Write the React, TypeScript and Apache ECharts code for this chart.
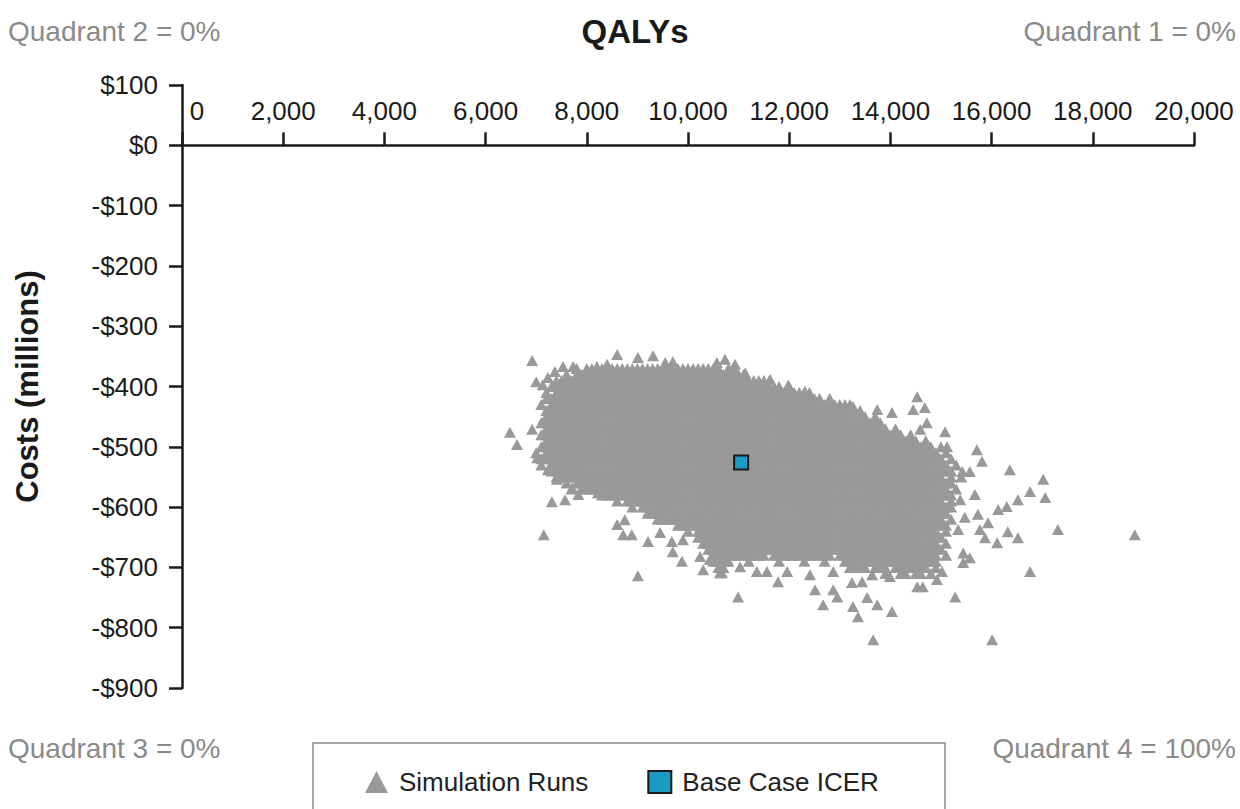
import React, { useEffect, useRef } from "react";
import * as echarts from "echarts";

// ---- Axes ----
const qalyMin = 0;
const qalyMax = 20000;
const qalyStep = 2000;
const costMin = -900;
const costMax = 100;
const costStep = 100;

// ---- Titles / labels ----
const xTitle = "QALYs";
const yTitle = "Costs (millions)";
const quadrantLabels = ["Quadrant 2 = 0%", "Quadrant 1 = 0%", "Quadrant 3 = 0%", "Quadrant 4 = 100%"];
const seriesNames = ["Simulation Runs", "Base Case ICER"];

// ---- Base case point [QALYs, cost in $ millions] ----
const baseCase: [number, number][] = [[11050, -526]];

// ---- Dense core of the simulation cloud, read off the picture as a cell mask ----
// row k -> cost = coreTopCost - k * coreCostStep ; column c -> QALYs = coreLeftQaly + c * coreQalyStep
const coreLeftQaly = 6500;
const coreQalyStep = 100;
const coreTopCost = -370;
const coreCostStep = 10;
const coreMask: string[] = [
  ".......... ...#.##.## ########## ########## ##.##",
  ".......... .#.####### ########## ########## #######",
  ".........# ########## ########## ########## ########## #",
  "........## ########## ########## ########## ########## ####.#",
  ".......#.# ########## ########## ########## ########## ########.#",
  ".......### ########## ########## ########## ########## ########## ##.#",
  "......#.## ########## ########## ########## ########## ########## ######.#",
  ".......### ########## ########## ########## ########## ########## ##########",
  ".......### ########## ########## ########## ########## ########## ########## #.#",
  "......#### ########## ########## ########## ########## ########## ########## ####",
  ".......### ########## ########## ########## ########## ########## ########## #####.#",
  "......#### ########## ########## ########## ########## ########## ########## ########.#",
  ".......### ########## ########## ########## ########## ########## ########## ########## #.#",
  "......#### ########## ########## ########## ########## ########## ########## ########## ####.#",
  ".....#.### ########## ########## ########## ########## ########## ########## ########## #####.#",
  "......#### ########## ########## ########## ########## ########## ########## ########## ######.#",
  "......#.## ########## ########## ########## ########## ########## ########## ########## #######.#",
  "........## ########## ########## ########## ########## ########## ########## ########## ########",
  ".........# ########## ########## ########## ########## ########## ########## ########## ######.#.#",
  ".......... .#.####### ########## ########## ########## ########## ########## ########## ########",
  ".......... ..#.###### ########## ########## ########## ########## ########## ########## #######.#",
  ".......... ........## ########## ########## ########## ########## ########## ########## ########",
  ".......... .......... .#.####### ########## ########## ########## ########## ########## ######.#",
  ".......... .......... ....#.#### ########## ########## ########## ########## ########## ########",
  ".......... .......... .......### ########## ########## ########## ########## ########## #######",
  ".......... .......... .........# ########## ########## ########## ########## ########## ######.#",
  ".......... .......... .......... ...####### ########## ########## ########## ########## #######",
  ".......... .......... .......... .....#.### ########## ########## ########## ########## #####.#",
  ".......... .......... .......... .......### ########## ########## ########## ########## ######",
  ".......... .......... .......... ........## ########## ########## ########## ########## #####.#",
  ".......... .......... .......... .........# ########## ########## ########## ########## ######",
  ".......... .......... .......... .......... ########## #.######## ####.##### ########## #####.#",
  ".......... .......... .......... .......... ####...#.. ...#....#. ..#...#### ########## #####",
  ".......... .......... .......... .......... .##....... .......... .......### #.###.#### ###.#",
  ".......... .......... .......... .......... .......... .......... .......... ....#..##. ##.#",
];

// ---- Individual simulation runs around the edge of the cloud [QALYs, cost] ----
const simulationOutliers: [number, number][] = [
  [6920, -357], [7000, -392], [6920, -471], [6480, -476], [6620, -496], [7020, -518], [7310, -591],
  [7570, -588], [7150, -646], [9010, -714],
  [8600, -347], [9010, -352], [9310, -349], [9550, -360], [9700, -359], [10570, -360], [10730, -355],
  [10930, -363], [7530, -367], [7730, -367], [8200, -367], [8400, -363],
  [11620, -388], [11130, -377], [11980, -398], [12310, -408], [12810, -422], [13100, -430],
  [13260, -433], [13740, -438], [14030, -443], [14450, -438], [14530, -417], [14680, -435], [14720, -460],
  [14590, -471],
  [15080, -475], [15120, -500], [15710, -505], [15810, -524], [15570, -541], [15420, -541], [16360, -538],
  [17020, -554], [17060, -584], [16760, -574], [16520, -588], [15670, -579], [15470, -617], [15730, -612],
  [15770, -637], [15870, -651], [16110, -659], [16320, -641], [16520, -651], [16130, -604], [16300, -599],
  [15930, -626], [17310, -637], [18830, -646], [16760, -707], [16010, -820], [15280, -749], [15570, -684],
  [15440, -692], [15440, -676], [15020, -707], [14920, -720], [15380, -588], [15340, -637],
  [10990, -749], [11780, -724], [12410, -712], [12510, -737], [12670, -762], [12870, -737], [12950, -749],
  [13260, -765], [13360, -782], [13540, -750], [13740, -762], [14030, -773], [13660, -820], [13990, -715],
  [14530, -732], [14640, -732], [11960, -707], [11560, -707], [11360, -707], [11030, -699], [13240, -725],
  [13440, -724], [13640, -712], [12870, -707], [10670, -709],
  [8600, -629], [8750, -621], [8890, -646], [8720, -646], [9210, -657], [9680, -657], [9700, -674],
  [9880, -690], [10300, -704], [10630, -709], [10430, -687], [10240, -682], [9450, -642], [9900, -654],
  [7710, -568], [8060, -566], [8220, -576], [7830, -579], [7410, -554], [7230, -538],
  [7130, -397], [7230, -385], [7370, -375],
];

function decodeMask(): [number, number][] {
  const pts: [number, number][] = [];
  coreMask.forEach((row, k) => {
    const cells = row.replace(/ /g, "");
    for (let c = 0; c < cells.length; c++) {
      if (cells[c] === "#") pts.push([coreLeftQaly + c * coreQalyStep, coreTopCost - k * coreCostStep]);
    }
  });
  return pts;
}

const FONT = "'Liberation Sans', Arial, Helvetica, sans-serif";
const INK = "#1a1a1a";
const GREY_TRI = "#999999";
const QUAD = "#8a8a8a";

const withCommas = (v: number) => String(v).replace(/\B(?=(\d{3})+(?!\d))/g, ",");

export default function App() {
  const ref = useRef<HTMLDivElement>(null);
  useEffect(() => {
    if (!ref.current) return;
    const chart = echarts.init(ref.current, undefined, { renderer: "svg" });
    const simulation = [...decodeMask(), ...simulationOutliers];
    const axisLine = { color: INK, width: 2.5 };
    chart.setOption({
      animation: false,
      textStyle: { fontFamily: FONT },
      grid: { left: 182, right: 46, top: 85, bottom: 121, containLabel: false },
      xAxis: {
        type: "value",
        position: "top",
        min: qalyMin,
        max: qalyMax,
        interval: qalyStep,
        axisLine: { show: true, onZero: true, lineStyle: axisLine },
        axisTick: { show: true, length: 13, lineStyle: axisLine },
        splitLine: { show: false },
        axisLabel: {
          fontSize: 26,
          color: INK,
          fontFamily: FONT,
          margin: -39,
          formatter: (v: number) => (v === 0 ? "{z|0}" : withCommas(v)),
          rich: { z: { fontSize: 26, color: INK, fontFamily: FONT, padding: [0, 0, 0, 30] } },
        },
      },
      yAxis: {
        type: "value",
        min: costMin,
        max: costMax,
        interval: costStep,
        axisLine: { show: true, onZero: true, lineStyle: axisLine },
        axisTick: { show: true, length: 13, lineStyle: axisLine },
        splitLine: { show: false },
        axisLabel: {
          fontSize: 26,
          color: INK,
          fontFamily: FONT,
          margin: 24,
          formatter: (v: number) => (v < 0 ? `-$${-v}` : `$${v}`),
        },
        name: yTitle,
        nameLocation: "middle",
        nameGap: 139,
        nameTextStyle: { fontSize: 31, fontWeight: "bold", color: INK, fontFamily: FONT },
      },
      legend: {
        left: 365,
        top: 769,
        padding: 0,
        itemGap: 59,
        itemWidth: 23,
        itemHeight: 22,
        selectedMode: false,
        textStyle: { fontSize: 26, color: "#222", fontFamily: FONT, padding: [0, 0, 0, 6] },
        data: [
          { name: seriesNames[0], icon: "triangle" },
          { name: seriesNames[1], icon: "rect" },
        ],
      },
      graphic: [
        {
          type: "text",
          x: 635,
          y: 31,
          style: { text: xTitle, fontSize: 33, fontWeight: "bold", fontFamily: FONT, fill: INK, align: "center", verticalAlign: "middle" },
        },
        {
          type: "text",
          x: 8,
          y: 31,
          style: { text: quadrantLabels[0], fontSize: 28, fontFamily: FONT, fill: QUAD, align: "left", verticalAlign: "middle" },
        },
        {
          type: "text",
          x: 1236,
          y: 31,
          style: { text: quadrantLabels[1], fontSize: 28, fontFamily: FONT, fill: QUAD, align: "right", verticalAlign: "middle" },
        },
        {
          type: "text",
          x: 8,
          y: 748,
          style: { text: quadrantLabels[2], fontSize: 28, fontFamily: FONT, fill: QUAD, align: "left", verticalAlign: "middle" },
        },
        {
          type: "text",
          x: 1236,
          y: 748,
          style: { text: quadrantLabels[3], fontSize: 28, fontFamily: FONT, fill: QUAD, align: "right", verticalAlign: "middle" },
        },
        {
          type: "rect",
          shape: { x: 313, y: 743, width: 632, height: 120 },
          style: { fill: "none", stroke: "#8a8a8a", lineWidth: 1.5 },
          silent: true,
        },
      ],
      series: [
        {
          name: seriesNames[0],
          type: "scatter",
          data: simulation,
          symbol: "triangle",
          symbolSize: [12, 11],
          itemStyle: { color: GREY_TRI, opacity: 1 },
          progressive: 0,
          large: false,
          silent: true,
          z: 2,
        },
        {
          name: seriesNames[1],
          type: "scatter",
          data: baseCase,
          symbol: "rect",
          symbolSize: 14,
          itemStyle: { color: "#1a9bc2", borderColor: INK, borderWidth: 2, opacity: 1 },
          z: 3,
        },
      ],
    });
    return () => chart.dispose();
  }, []);
  return <div ref={ref} style={{ position: "fixed", left: 0, top: 0, width: 1240, height: 809, background: "#fff" }} />;
}
